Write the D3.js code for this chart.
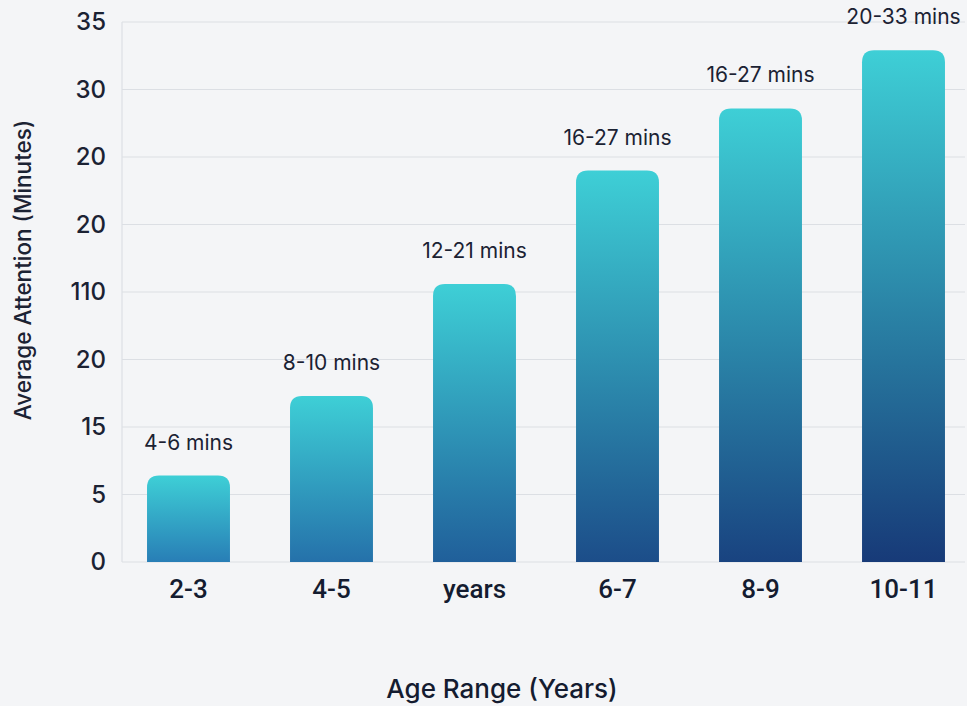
<!DOCTYPE html>
<html>
<head>
<meta charset="utf-8">
<script src="https://cdn.jsdelivr.net/npm/d3@7"></script>
<style>
  body { margin: 0; background: #f4f5f7; }
  svg { display: block; font-family: Inter, "Open Sans", sans-serif; }
</style>
</head>
<body>
<svg width="967" height="706"></svg>
<script>
// Data
const ageRanges = ['2-3', '4-5', 'years', '6-7', '8-9', '10-11'];
const attention = [6.4, 12.3, 20.6, 29.0, 33.6, 37.9];
const spanLabels = ['4-6 mins', '8-10 mins', '12-21 mins', '16-27 mins', '16-27 mins', '20-33 mins'];
const tickValues = [0, 5, 10, 15, 20, 25, 30, 35, 40];
const tickLabels = ['0', '5', '15', '20', '110', '20', '20', '30', '35'];

const svg = d3.select('svg');
const width = +svg.attr('width');

const margin = { top: 22, left: 122, bottom: 144, right: 2 };
const plotBottom = 706 - margin.bottom;

const x = d3.scaleBand()
  .domain(ageRanges)
  .range([margin.left, 970])
  .paddingInner(0.42)
  .paddingOuter(0.175);

const y = d3.scaleLinear()
  .domain([0, 40])
  .range([plotBottom, margin.top]);

// gridlines
svg.append('g')
  .selectAll('line')
  .data(tickValues)
  .join('line')
    .attr('x1', margin.left)
    .attr('x2', width - margin.right)
    .attr('y1', d => y(d))
    .attr('y2', d => y(d))
    .attr('stroke', '#dcdfe4')
    .attr('stroke-width', 1.2);

svg.append('line')
  .attr('x1', margin.left).attr('x2', margin.left)
  .attr('y1', y(40)).attr('y2', y(0))
  .attr('stroke', '#dcdfe4')
  .attr('stroke-width', 1.2);

// y axis labels
const yAxis = d3.axisLeft(y)
  .tickValues(tickValues)
  .tickFormat((d, i) => tickLabels[i])
  .tickSize(0)
  .tickPadding(16);

svg.append('g')
  .attr('transform', `translate(${margin.left}, 0)`)
  .call(yAxis)
  .call(g => g.select('.domain').remove())
  .selectAll('text')
    .attr('font-size', 24)
    .attr('font-weight', 500)
    .attr('font-family', 'Inter, sans-serif')
    .attr('fill', '#1b2233');

// x axis labels
const xAxis = d3.axisBottom(x).tickSize(0).tickPadding(18);
svg.append('g')
  .attr('transform', `translate(0, ${plotBottom})`)
  .call(xAxis)
  .call(g => g.select('.domain').remove())
  .selectAll('text')
    .attr('font-size', 26)
    .attr('font-weight', 500)
    .attr('font-family', 'Roboto, sans-serif')
    .attr('fill', '#141c30');

// gradients, one per bar so every top starts turquoise
const defs = svg.append('defs');
const maxVal = d3.max(attention);
const bottomColor = d3.interpolateRgb('#2b8cc2', '#173a78');

defs.selectAll('linearGradient')
  .data(attention)
  .join('linearGradient')
    .attr('id', (d, i) => `bar-grad-${i}`)
    .attr('x1', 0).attr('y1', 0).attr('x2', 0).attr('y2', 1)
    .call(g => g.append('stop').attr('offset', '0%').attr('stop-color', '#3ecfd6'))
    .call(g => g.append('stop').attr('offset', '100%').attr('stop-color', d => bottomColor(d / maxVal)));

const r = 12;
function barPath(d, i) {
  const x0 = x(ageRanges[i]);
  const w = x.bandwidth();
  const top = y(d);
  return `M${x0},${plotBottom} V${top + r} Q${x0},${top} ${x0 + r},${top} H${x0 + w - r} Q${x0 + w},${top} ${x0 + w},${top + r} V${plotBottom} Z`;
}

svg.append('g')
  .selectAll('path')
  .data(attention)
  .join('path')
    .attr('d', barPath)
    .attr('fill', (d, i) => `url(#bar-grad-${i})`);

// labels above bars
svg.append('g')
  .selectAll('text')
  .data(attention)
  .join('text')
    .attr('x', (d, i) => x(ageRanges[i]) + x.bandwidth() / 2)
    .attr('y', d => y(d) - 26)
    .attr('text-anchor', 'middle')
    .attr('font-size', 21)
    .attr('font-weight', 400)
    .attr('fill', '#1b2233')
    .text((d, i) => spanLabels[i]);

// axis titles
svg.append('text')
  .attr('x', 502)
  .attr('y', 698)
  .attr('text-anchor', 'middle')
  .attr('font-size', 26)
  .attr('font-weight', 500)
  .attr('fill', '#141c30')
  .text('Age Range (Years)');

svg.append('text')
  .attr('transform', `translate(31, ${(y(0) + y(40)) / 2 - 22}) rotate(-90)`)
  .attr('text-anchor', 'middle')
  .attr('font-size', 22.5)
  .attr('font-weight', 500)
  .attr('fill', '#1b2233')
  .text('Average Attention (Minutes)');
</script>
</body>
</html>
